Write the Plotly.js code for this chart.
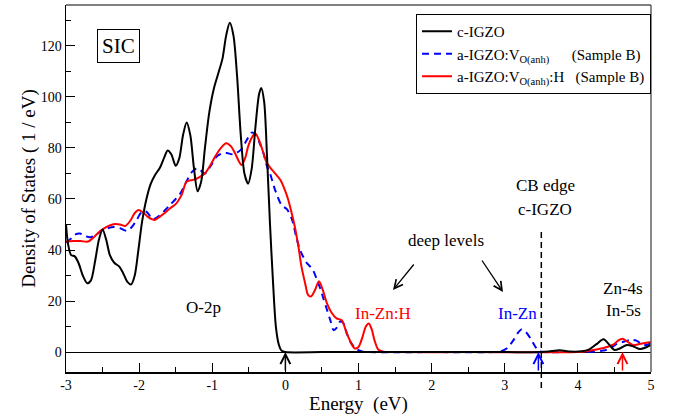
<!DOCTYPE html>
<html>
<head>
<meta charset="utf-8">
<script src="https://cdn.plot.ly/plotly-3.0.1.min.js"></script>
<style>html,body{margin:0;padding:0;background:#fff;}#chart{width:674px;height:417px;}</style>
</head>
<body>
<div id="chart"></div>
<script>
// c-IGZO (black solid)
var blackX = [-3.00,-2.97,-2.93,-2.88,-2.83,-2.77,-2.71,-2.66,-2.60,-2.55,-2.50,-2.45,-2.40,-2.34,-2.27,-2.22,-2.16,-2.11,-2.06,-2.01,-1.96,-1.90,-1.84,-1.78,-1.72,-1.66,-1.61,-1.56,-1.50,-1.45,-1.40,-1.35,-1.30,-1.25,-1.20,-1.15,-1.10,-1.04,-0.98,-0.92,-0.86,-0.81,-0.76,-0.71,-0.66,-0.61,-0.56,-0.51,-0.46,-0.41,-0.36,-0.33,-0.29,-0.25,-0.21,-0.17,-0.13,-0.09,-0.05,0.00,0.50,1.00,1.50,2.00,2.50,3.00,3.50,3.60,3.75,3.90,4.05,4.15,4.25,4.35,4.44,4.50,4.58,4.67,4.76,4.85,4.93,5.00];
var blackY = [50,42,38,37.5,35,30,27,28,36,44,48,44,38,35,33.5,31,27.5,26.5,30,40,51,60,66,69.5,72,76,79,77.5,73,76,85,90,85,72,63,67,80,94,103,109,115,124,129,124,108,85,70,66,72,88,101,103.5,98,76,50,28,10,3,0.5,0,0,0,0,0,0,0,0,0.2,0.7,0.2,0.3,1,3,5,2.5,0.8,1.5,2.8,2.2,1.2,1.8,2.8];

// a-IGZO:V_O(anh) (blue dashed)
var blueX = [-3.00,-2.95,-2.88,-2.81,-2.74,-2.67,-2.59,-2.51,-2.43,-2.35,-2.26,-2.17,-2.10,-2.03,-1.96,-1.90,-1.81,-1.72,-1.65,-1.58,-1.50,-1.44,-1.35,-1.28,-1.21,-1.15,-1.10,-1.02,-0.94,-0.87,-0.80,-0.73,-0.67,-0.60,-0.53,-0.46,-0.40,-0.35,-0.30,-0.25,-0.21,-0.14,-0.05,0.02,0.09,0.15,0.20,0.25,0.29,0.34,0.38,0.43,0.47,0.52,0.57,0.62,0.66,0.70,0.75,0.79,0.84,0.90,0.97,1.05,1.15,2.00,2.85,2.94,3.03,3.12,3.18,3.23,3.29,3.35,3.41,3.46,3.55,3.80,4.20,4.35,4.44,4.52,4.60,4.72,4.80,4.90,4.96,5.00];
var blueY = [43,44,46,46.5,45.5,45,46,47.6,48.5,49,48.5,47.5,49,52,55,55,52,53.5,55.5,57.6,60,62,67,70.5,72,71,70,73,76.6,77.8,78,77.5,78,79.5,83,86,85,81.8,78,72.7,70,63.5,57.5,56,52,45,40,37,35,33.5,32,28.5,25.5,21,16.5,12,8.6,9.5,12,11.5,7.3,3.5,1.2,0.2,0,0,0,0.3,1.5,4.7,7.5,8.9,7.8,5.4,2.5,0.5,0,0,0.1,0.6,1.4,3,3.8,4.8,4.5,2.7,3.0,3.6];

// a-IGZO:V_O(anh):H (red solid)
var redX = [-3.00,-2.90,-2.80,-2.70,-2.62,-2.55,-2.49,-2.41,-2.33,-2.26,-2.19,-2.12,-2.06,-2.01,-1.95,-1.88,-1.82,-1.78,-1.72,-1.65,-1.58,-1.50,-1.42,-1.35,-1.26,-1.18,-1.10,-1.03,-0.96,-0.88,-0.81,-0.74,-0.69,-0.64,-0.60,-0.55,-0.51,-0.46,-0.41,-0.36,-0.30,-0.26,-0.21,-0.14,-0.07,0.00,0.04,0.09,0.13,0.18,0.22,0.27,0.31,0.35,0.40,0.46,0.51,0.57,0.63,0.70,0.77,0.84,0.90,0.95,1.00,1.05,1.10,1.14,1.18,1.22,1.27,1.34,1.45,2.50,4.00,4.10,4.21,4.30,4.40,4.49,4.55,4.61,4.68,4.76,4.84,4.92,5.00];
var redY = [43.3,43.5,43.5,43.3,45,47,48.3,49.5,50.2,50,49.4,51.5,54.5,55.7,54.8,53,52,51.8,53,54.5,56.3,58,61.5,66.8,67.5,68.5,70,73,76.6,80,81.8,80.5,78,75,73.3,76,80.5,84,85.7,83,78,74.5,72.4,70,67.5,63,59.6,54,49,41,33.5,27,22.4,21.8,24,27.8,24.5,19,15.5,13.2,12.5,7.3,3.5,1.4,2,5.5,10,11.2,9,4.5,1,0.1,0,0,0,0.3,0.8,1.3,2,3,4.5,5.2,4,2.7,3.2,3.6,4];

var seriesNames = ['c-IGZO',
  'a-IGZO:V<sub>O(anh)</sub>&nbsp;&nbsp;&nbsp;&nbsp;&nbsp;&nbsp;(Sample B)',
  'a-IGZO:V<sub>O(anh)</sub>:H&nbsp;&nbsp;&nbsp;(Sample B)'];

var xTicks = [-3,-2,-1,0,1,2,3,4,5];
var yTicks = [0,20,40,60,80,100,120];

// pixel -> paper helpers for layout positioning
var L = 66, R = 651, T = 5, B = 372;
function px(x){ return (x - L) / (R - L); }
function py(y){ return (B - y) / (B - T); }

var SERIF = 'Liberation Serif, Times New Roman, serif';

var traces = [
  {x: blueX, y: blueY, name: seriesNames[1], type: 'scatter', mode: 'lines', legendrank: 2,
   line: {color: '#0000ff', width: 2, dash: '7px,5px', shape: 'spline', smoothing: 0.8}},
  {x: redX, y: redY, name: seriesNames[2], type: 'scatter', mode: 'lines', legendrank: 3,
   line: {color: '#ff0000', width: 2, shape: 'spline', smoothing: 0.8}},
  {x: blackX, y: blackY, name: seriesNames[0], type: 'scatter', mode: 'lines', legendrank: 1,
   line: {color: '#000000', width: 2, shape: 'spline', smoothing: 0.8}}
];

function txt(text, x, y, color, size){
  return {text: text, xref: 'paper', yref: 'paper', x: px(x), y: py(y), showarrow: false,
          xanchor: 'center', yanchor: 'middle', font: {family: SERIF, size: size || 17, color: color || '#000'}};
}
function arrowUp(xval, color){
  return {xref: 'x', yref: 'y', x: xval, y: 0, ax: 0, ay: 20, text: '', showarrow: true,
          arrowhead: 5, arrowsize: 1.3, arrowwidth: 1.5, arrowcolor: color};
}

var annotations = [
  {text: 'SIC', xref: 'paper', yref: 'paper', x: px(118), y: py(46.5), showarrow: false,
   xanchor: 'center', yanchor: 'middle', font: {family: SERIF, size: 21, color: '#000'},
   bordercolor: '#000', borderwidth: 1, borderpad: 4, bgcolor: '#fff'},
  txt('O-2p', 203, 307, '#000', 17),
  txt('In-Zn:H', 383, 313, '#ff0000', 17),
  txt('In-Zn', 517, 313, '#0000ff', 17),
  txt('deep levels', 446, 240, '#000', 17),
  txt('CB edge', 545, 186, '#000', 17),
  txt('c-IGZO', 545, 209, '#000', 17),
  txt('Zn-4s', 623, 288, '#000', 17),
  txt('In-5s', 623, 310, '#000', 17),
  {xref: 'paper', yref: 'paper', x: px(393), y: py(290), ax: 415 - 393, ay: 263 - 290, text: '', showarrow: true,
   arrowhead: 5, arrowsize: 1.3, arrowwidth: 1.3, arrowcolor: '#000'},
  {xref: 'paper', yref: 'paper', x: px(503), y: py(292), ax: 481 - 503, ay: 259 - 292, text: '', showarrow: true,
   arrowhead: 5, arrowsize: 1.3, arrowwidth: 1.3, arrowcolor: '#000'},
  arrowUp(0, '#000'),
  arrowUp(3.46, '#0000ff'),
  arrowUp(4.61, '#ff0000')
];

var shapes = [
  {type: 'line', xref: 'paper', yref: 'paper', x0: 0, x1: 1, y0: 1, y1: 1, line: {color: '#808080', width: 2}},
  {type: 'line', xref: 'paper', yref: 'paper', x0: 1, x1: 1, y0: 0, y1: 1, line: {color: '#606060', width: 1.5}},
  {type: 'line', xref: 'x', yref: 'paper', x0: 3.5, x1: 3.5, y0: py(388), y1: py(232),
   line: {color: '#000', width: 1.5, dash: '6px,4px'}}
];

var layout = {
  width: 674, height: 417,
  margin: {l: L, r: 674 - R, t: T, b: 417 - B},
  paper_bgcolor: '#fff', plot_bgcolor: '#fff',
  font: {family: SERIF, color: '#000'},
  showlegend: true,
  legend: {x: px(416), y: py(14), xanchor: 'left', yanchor: 'top',
           bgcolor: '#fff', bordercolor: '#000', borderwidth: 1,
           font: {family: SERIF, size: 15, color: '#000'}, tracegroupgap: 0, itemwidth: 30},
  xaxis: {range: [-3, 5], tickvals: xTicks, ticktext: xTicks.map(String), ticks: 'inside', ticklen: 9,
          tickcolor: '#000', tickwidth: 1, showline: true, linecolor: '#000', linewidth: 1.5, mirror: false,
          showgrid: false, zeroline: false, tickfont: {family: SERIF, size: 14, color: '#000'},
          minor: {dtick: 0.5, ticks: 'inside', ticklen: 5, tickcolor: '#000', showgrid: false},
          title: {text: 'Energy&nbsp;&nbsp;(eV)', font: {family: SERIF, size: 19, color: '#000'}, standoff: 0}},
  yaxis: {range: [-7.8, 136], tickvals: yTicks, ticktext: yTicks.map(String), ticks: 'inside', ticklen: 9,
          tickcolor: '#000', tickwidth: 1, showline: true, linecolor: '#000', linewidth: 1.5, mirror: false,
          showgrid: false, zeroline: true, zerolinecolor: '#000', zerolinewidth: 1,
          tickfont: {family: SERIF, size: 14, color: '#000'},
          minor: {dtick: 10, ticks: 'inside', ticklen: 5, tickcolor: '#000', showgrid: false},
          title: {text: 'Density of States ( 1 / eV)', font: {family: SERIF, size: 19, color: '#000'}, standoff: 0}},
  annotations: annotations,
  shapes: shapes
};

Plotly.newPlot('chart', traces, layout, {displayModeBar: false, staticPlot: true});
</script>
</body>
</html>
